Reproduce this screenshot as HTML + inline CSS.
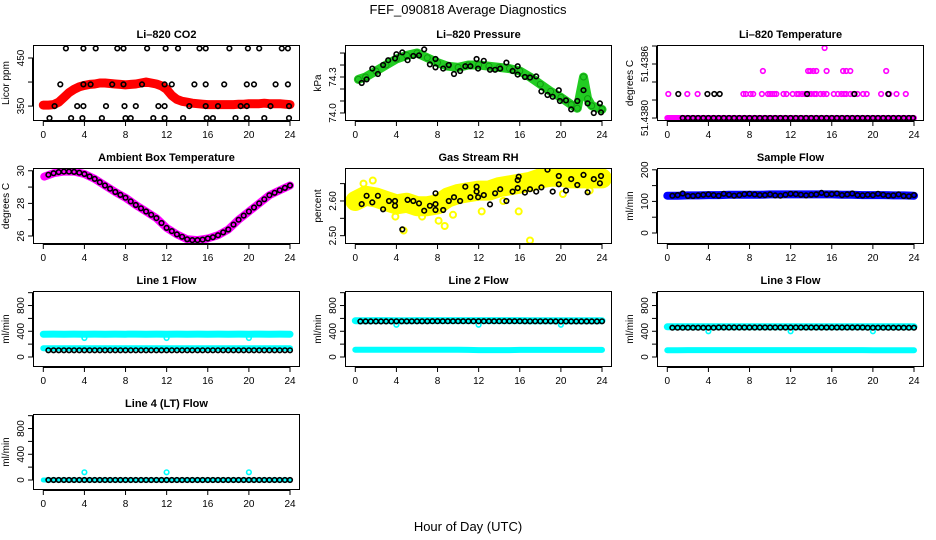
<!DOCTYPE html>
<html><head><meta charset="utf-8"><style>
html,body{margin:0;padding:0;background:#fff;}
svg{display:block;font-family:"Liberation Sans",Arial,sans-serif;}
</style></head><body>
<svg id="chart" width="936" height="540" viewBox="0 0 936 540" xmlns="http://www.w3.org/2000/svg">
<text x="468" y="14" text-anchor="middle" font-size="13">FEF_090818  Average Diagnostics</text>
<text x="468" y="531" text-anchor="middle" font-size="13">Hour of Day (UTC)</text>
</svg>
<script>
// ---------- data ----------
const hours=[0,1,2,3,4,5,6,7,8,9,10,11,12,13,14,15,16,17,18,19,20,21,22,23,24];
const hoursHalf=[0,0.5,1,1.5,2,2.5,3,3.5,4,4.5,5,5.5,6,6.5,7,7.5,8,8.5,9,9.5,10,10.5,11,11.5,12,12.5,13,13.5,14,14.5,15,15.5,16,16.5,17,17.5,18,18.5,19,19.5,20,20.5,21,21.5,22,22.5,23,23.5,24];
const xTicks=[0,4,8,12,16,20,24];

// CO2
const co2Red=[352,352,353,358,368,378,385,390,393,395,396,398,398,397,396,395,394,395,396,398,400,398,396,392,385,372,364,360,358,356,355,354,353,353,353,353,353,353,354,354,355,355,355,356,355,355,355,354,353];
const co2BlkHours=[2.2,3.9,5.1,7.2,7.8,10.1,11.9,13.1,15.2,15.8,18.1,19.9,21.0,23.2,23.8,
 1.65,3.9,4.6,6.7,7.8,9.6,11.8,12.5,14.7,15.8,17.6,19.8,20.5,22.6,23.8,
 1.1,3.3,3.9,6.1,7.9,9.0,11.2,11.8,14.2,15.8,17.0,19.2,19.8,22.1,23.9,
 0.6,2.7,3.8,5.7,8.0,8.5,10.7,11.8,13.6,15.9,16.5,18.7,19.8,21.5,23.9];
const co2BlkVals=[470,470,470,470,470,470,470,470,470,470,470,470,470,470,470,
 395,395,395,395,395,395,395,395,395,395,395,395,395,395,395,
 350,350,350,350,350,350,350,350,350,350,350,350,350,350,350,
 325,325,325,325,325,325,325,325,325,325,325,325,325,325,325];

// Pressure
const presHours=[0.3,1,2,3,4,5,6,7,8,9,10,11,12,13,14,15,16,17,18,19,20,21,21.6,22.2,22.6,23,24];
const presGreen=[74.28,74.30,74.35,74.40,74.45,74.48,74.50,74.46,74.42,74.39,74.38,74.40,74.40,74.39,74.38,74.37,74.35,74.30,74.24,74.18,74.13,74.07,74.04,74.30,74.12,74.06,74.03];
const presBlkHours=[0.62,1.1,1.65,2.2,2.7,3.2,3.86,4.0,4.57,5.09,5.64,6.2,6.7,7.26,7.8,7.8,8.55,9.1,9.6,10.2,10.7,11.2,11.8,11.95,12.5,13.1,13.6,14.1,14.7,15.3,15.8,15.8,16.5,17.0,17.6,18.1,18.7,19.2,19.8,19.9,20.5,21.0,21.6,22.2,22.6,23.2,23.8,23.9];
const presBlkVals=[74.25,74.28,74.37,74.325,74.40,74.44,74.455,74.49,74.505,74.44,74.475,74.48,74.53,74.405,74.45,74.38,74.37,74.40,74.325,74.35,74.39,74.39,74.45,74.37,74.435,74.36,74.36,74.37,74.42,74.35,74.39,74.32,74.30,74.295,74.305,74.18,74.15,74.135,74.19,74.10,74.105,74.03,74.10,74.19,74.08,74.0,74.08,74.005];

// Li-820 temperature
const tempLevel1=[51.4380,51.4380];
const tempLevel1Hours=[0,24];
const tempMagHours=[0.1,1.95,2.95,7.4,7.65,8.1,8.36,9.2,9.8,10.0,10.2,10.4,10.6,11.3,11.6,12.2,12.6,12.8,13.1,13.4,13.6,13.8,14.0,14.3,14.5,14.9,15.2,15.5,16.2,16.6,16.95,17.2,17.4,17.8,18.1,18.5,19.05,19.4,20.8,21.6,22.3,23.2,
 9.3,13.7,13.9,14.2,14.5,15.5,17.1,17.4,17.8,21.3,15.3];
const tempMagVals=[51.438267,51.438267,51.438267,51.438267,51.438267,51.438267,51.438267,51.438267,51.438267,51.438267,51.438267,51.438267,51.438267,51.438267,51.438267,51.438267,51.438267,51.438267,51.438267,51.438267,51.438267,51.438267,51.438267,51.438267,51.438267,51.438267,51.438267,51.438267,51.438267,51.438267,51.438267,51.438267,51.438267,51.438267,51.438267,51.438267,51.438267,51.438267,51.438267,51.438267,51.438267,51.438267,
 51.438522,51.438522,51.438522,51.438522,51.438522,51.438522,51.438522,51.438522,51.438522,51.438522,51.438778];
const tempBlkHours=[1.07,3.9,4.57,5.1,13.6,18.2,21.5,1.5,2.0,2.5,3.0,3.5,4.0,4.5,5.0,5.5,6.0,6.5,7.0,7.5,8.0,8.5,9.0,9.5,10.0,10.5,11.0,11.5,12.0,12.5,13.0,13.5,14.0,14.5,15.0,15.5,16.0,16.5,17.0,17.5,18.0,18.5,19.0,19.5,20.0,20.5,21.0,21.5,22.0,22.5,23.0,23.5,23.9];
const tempBlkVals=[51.438267,51.438267,51.438267,51.438267,51.438267,51.438267,51.438267,51.4380,51.4380,51.4380,51.4380,51.4380,51.4380,51.4380,51.4380,51.4380,51.4380,51.4380,51.4380,51.4380,51.4380,51.4380,51.4380,51.4380,51.4380,51.4380,51.4380,51.4380,51.4380,51.4380,51.4380,51.4380,51.4380,51.4380,51.4380,51.4380,51.4380,51.4380,51.4380,51.4380,51.4380,51.4380,51.4380,51.4380,51.4380,51.4380,51.4380,51.4380,51.4380,51.4380,51.4380,51.4380,51.4380];

// Ambient box temperature
const ambHours=[0.1,1,2,3,4,5,6,7,8,9,10,11,12,13,14,15,16,17,18,19,20,21,22,23,24];
const ambVals=[29.64,29.85,29.95,29.95,29.8,29.5,29.1,28.7,28.35,27.9,27.5,27.1,26.5,26.1,25.8,25.75,25.85,26.05,26.4,27.0,27.5,28.0,28.5,28.8,29.1];
const ambBlk=[null,29.75,29.85,29.92,29.95,29.95,29.93,29.88,29.8,29.65,29.5,29.3,29.1,28.9,28.7,28.52,28.35,28.12,27.9,27.7,27.5,27.3,27.1,26.8,26.5,26.3,26.1,25.95,25.8,25.75,25.75,25.78,25.85,25.93,26.05,26.22,26.4,26.7,27.0,27.25,27.5,27.75,28.0,28.25,28.5,28.65,28.8,28.95,29.1];

// Gas stream RH
const rhYellow=[2.60,2.615,2.61,2.60,2.59,2.595,2.585,2.585,2.59,2.61,2.62,2.625,2.63,2.63,2.64,2.645,2.65,2.655,2.665,2.67,2.67,2.665,2.665,2.665,2.665];
const rhYelOutHours=[17.0,4.7,8.7,8.1,1.7,0.8,3.9,9.5,15.9,18.6,22.8,20.2,6.5,12.3,14.4];
const rhYelOutVals=[2.486,2.515,2.528,2.543,2.659,2.65,2.555,2.56,2.57,2.69,2.63,2.62,2.555,2.57,2.60];
const rhBlkHours=[0.62,1.1,1.65,2.2,2.7,3.28,3.86,3.86,4.57,5.09,5.64,6.2,6.7,7.26,7.8,7.8,7.8,8.55,9.1,9.6,10.2,10.7,11.2,11.8,11.8,11.95,12.5,13.1,13.6,14.1,14.7,15.3,15.8,15.8,15.9,16.5,17.0,17.6,18.1,18.7,19.2,19.8,19.8,20.5,21.0,21.6,22.2,22.6,23.2,23.8,23.9];
const rhBlkVals=[2.591,2.615,2.596,2.615,2.576,2.60,2.60,2.586,2.518,2.603,2.60,2.593,2.572,2.586,2.622,2.591,2.574,2.574,2.60,2.611,2.60,2.641,2.611,2.641,2.627,2.611,2.617,2.59,2.622,2.634,2.60,2.627,2.66,2.637,2.67,2.624,2.634,2.627,2.639,2.69,2.627,2.672,2.648,2.63,2.663,2.646,2.675,2.625,2.663,2.651,2.672];

// Sample flow
const sampBlue=[118,118,119,119,120,120,121,121,121,121,122,122,122,122,122,122,122,121,121,120,120,120,119,119,118];
const sampBlk=[null,118,120,125,117,117,119,121,122,120,118,124,121,118,120,123,124,122,120,120,122,119,118,121,124,123,121,119,121,122,127,122,123,125,120,122,125,120,119,121,120,124,121,118,119,122,117,116,120];

// Line flows
const line1Upper=[355,356,355,356,355,356,355,356,355,356,355,356,355,356,355,356,355,356,355,356,355,356,355,356,355];
const line1Lower=[135,135,135,135,135,135,135,135,135,135,135,135,135,135,135,135,135,135,135,135,135,135,135,135,135];
const line1Blk=[null,104,104,104,104,104,104,104,104,104,104,104,104,104,104,104,104,104,104,104,104,104,104,104,104,104,104,104,104,104,104,104,104,104,104,104,104,104,104,104,104,104,104,104,104,104,104,104,104];
const line2Upper=[565,565,566,566,565,565,566,566,566,566,566,566,566,566,566,566,566,565,565,565,565,565,565,565,565];
const line2Lower=[112,112,112,112,112,112,112,112,112,112,112,110,108,108,108,108,110,110,110,110,110,110,110,110,110];
const line2Blk=[null,553,553,553,553,553,553,553,555,555,555,555,555,555,555,557,557,557,557,557,557,557,557,557,557,557,557,557,557,557,557,557,557,555,555,555,555,555,555,553,553,553,553,553,553,553,553,553,555];
const line3Upper=[470,470,470,470,470,470,470,470,470,470,470,470,470,470,470,470,470,470,470,470,470,470,470,470,470];
const line3Lower=[105,105,108,108,108,108,108,108,108,108,108,108,108,108,108,108,108,108,108,108,105,105,105,105,105];
const line3Blk=[null,455,455,455,455,455,455,455,455,455,458,458,458,458,458,458,458,458,458,458,458,458,458,458,458,458,458,458,458,458,458,458,458,458,458,458,458,458,458,455,455,455,455,455,455,455,455,455,455];
const line4Cyan=[0,0,0,0,0,0,0,0,0,0,0,0,0,0,0,0,0,0,0,0,0,0,0,0,0];
const line4Blk=[null,0,0,0,0,0,0,0,0,0,0,0,0,0,0,0,0,0,0,0,0,0,0,0,0,0,0,0,0,0,0,0,0,0,0,0,0,0,0,0,0,0,0,0,0,0,0,0,0];
const dipHours=[4,12,20];
const line1Dips=[295,295,295];
const line2Dips=[500,500,500];
const line3Dips=[400,400,400];
const line4Spikes=[120,120,120];

// ---------- drawing ----------
const NS='http://www.w3.org/2000/svg';
const svg=document.getElementById('chart');
const colsX=[33,345,657], rowsY=[45,168,291,414], PW=267, PH=76;
function mk(tag,attrs,parent){const e=document.createElementNS(NS,tag);for(const k in attrs)e.setAttribute(k,attrs[k]);(parent||svg).appendChild(e);return e;}

function makePanel(col,row,name,title,ylab,ymin,ymax,yticks,ylabels){
  const L=colsX[col],T=rowsY[row];
  const g=mk('g',{});
  
  
  const xs=h=>L+10.3+h*(246.7/24);
  const ys=v=>T+(ymax-v)/(ymax-ymin)*PH;
  const t=mk('text',{x:L+PW/2,y:T-7,'text-anchor':'middle','font-size':11,'font-weight':'bold'},g);
  t.textContent=title;
  
  
  const yl=mk('text',{x:0,y:0,transform:`translate(${L-24},${T+PH/2}) rotate(-90)`,'text-anchor':'middle','font-size':10},g);
  yl.textContent=ylab;
  
  
  const ax=mk('g',{stroke:'#000','stroke-width':1,fill:'none'},g);
  
  
  mk('line',{x1:xs(0),x2:xs(24),y1:T+PH+0.5,y2:T+PH+0.5},ax);
  xTicks.forEach(v=>{
    mk('line',{x1:xs(v),x2:xs(v),y1:T+PH,y2:T+PH+5},ax);
    const tx=mk('text',{x:xs(v),y:T+PH+17,'text-anchor':'middle','font-size':10,fill:'#000',stroke:'none'},g);
    tx.textContent=String(v);
    
    
  });
  yticks.forEach((v,i)=>{
    mk('line',{x1:L-5,x2:L,y1:ys(v),y2:ys(v)},ax);
    if(ylabels[i]){
      const ty=mk('text',{x:0,y:0,transform:`translate(${L-9},${ys(v)}) rotate(-90)`,'text-anchor':'middle','font-size':10},g);
      ty.textContent=ylabels[i];
      
      
    }
  });
  mk('line',{x1:L-0.5,x2:L-0.5,y1:ys(yticks[0]),y2:ys(yticks[yticks.length-1])},ax);
  const plot=mk('g',{},g);
  const clip='clip-'+name;
  const cp=mk('clipPath',{id:clip},g);mk('rect',{x:L,y:T,width:PW,height:PH},cp);
  plot.setAttribute('clip-path','url(#'+clip+')');
  const box=mk('rect',{x:L+0.5,y:T+0.5,width:PW-1,height:PH-1,fill:'none',stroke:'#000','stroke-width':1},g);
  
  
  return {
    band(hrs,vals,color,w,sname){
      const sg=mk('g',{},plot);
      
      
      let d='';hrs.forEach((h,i)=>{if(vals[i]==null)return;d+=(d?'L':'M')+xs(h).toFixed(1)+','+ys(vals[i]).toFixed(1);});
      mk('path',{d:d,fill:'none',stroke:color,'stroke-width':w,'stroke-linecap':'round','stroke-linejoin':'round'},sg);
    },
    points(hrs,vals,color,sname,r,sw){
      const sg=mk('g',{fill:'none',stroke:color,'stroke-width':sw||1.6},plot);
      
      
      hrs.forEach((h,i)=>{if(vals[i]==null)return;
        const c=mk('circle',{cx:xs(h).toFixed(1),cy:ys(vals[i]).toFixed(1),r:r||2.3},sg);
        
        
      });
    }
  };
}
const BLK='#000';
// Row 1
let p=makePanel(0,0,'co2','Li\u2013820 CO2','Licor ppm',319,477,[350,400,450],['350','','450']);
p.band(hoursHalf,co2Red,'#ff0000',9,'co2-red-series');
p.points(hoursHalf,co2Red,'#ff0000','co2-red-points',2.5,1.5);
p.points(co2BlkHours,co2BlkVals,BLK,'co2-black-points');

p=makePanel(1,0,'pressure','Li\u2013820 Pressure','kPa',73.933,74.567,[74.0,74.1,74.2,74.3,74.4,74.5],['74.0','','','74.3','','']);
p.band(presHours,presGreen,'#22cc22',9,'pressure-green-series');
p.points(presHours,presGreen,'#119911','pressure-green-points',3,1);
p.points(presBlkHours,presBlkVals,BLK,'pressure-black-points');

p=makePanel(2,0,'li820-temp','Li\u2013820 Temperature','degrees C',51.437967,51.438811,[51.4380,51.4382,51.4384,51.4386,51.4388],['51.4380','','','51.4386','']);
p.band(tempLevel1Hours,tempLevel1,'#ff00ff',6,'temp-magenta-series');
p.points(tempMagHours,tempMagVals,'#ff00ff','temp-magenta-points');
p.points(tempBlkHours,tempBlkVals,BLK,'temp-black-points');

// Row 2
p=makePanel(0,1,'ambient','Ambient Box Temperature','degrees C',25.51,30.17,[26,27,28,29,30],['26','','28','','30']);
p.band(ambHours,ambVals,'#ff00ff',8,'ambient-magenta-series');
p.points(hoursHalf,ambBlk,BLK,'ambient-black-points');

p=makePanel(1,1,'rh','Gas Stream RH','percent',2.476,2.695,[2.50,2.55,2.60,2.65],['2.50','','2.60','']);
p.band(hours,rhYellow,'#ffff00',20,'rh-yellow-series');
p.points(rhYelOutHours,rhYelOutVals,'#ffff00','rh-yellow-points',3,2);
p.points(rhBlkHours,rhBlkVals,BLK,'rh-black-points');

p=makePanel(2,1,'sample-flow','Sample Flow','ml/min',-34.8,205.7,[0,50,100,150,200],['0','','100','','200']);
p.band(hours,sampBlue,'#0000ff',8,'sample-blue-series');
p.points(hoursHalf,sampBlk,BLK,'sample-black-points');

// Row 3
const fT=[0,200,400,600,800,1000], fL=['0','','400','','800',''];
p=makePanel(0,2,'line1','Line 1 Flow','ml/min',-155.5,1026,fT,fL);
p.band(hours,line1Upper,'#00ffff',7,'line1-cyan-upper');
p.band(hours,line1Lower,'#00ffff',6,'line1-cyan-lower');
p.points(dipHours,line1Dips,'#00ffff','line1-cyan-dips');
p.points(hoursHalf,line1Blk,BLK,'line1-black-points');

p=makePanel(1,2,'line2','Line 2 Flow','ml/min',-155.5,1026,fT,fL);
p.band(hours,line2Upper,'#00ffff',7,'line2-cyan-upper');
p.band(hours,line2Lower,'#00ffff',6,'line2-cyan-lower');
p.points(dipHours,line2Dips,'#00ffff','line2-cyan-dips');
p.points(hoursHalf,line2Blk,BLK,'line2-black-points');

p=makePanel(2,2,'line3','Line 3 Flow','ml/min',-155.5,1026,fT,fL);
p.band(hours,line3Upper,'#00ffff',7,'line3-cyan-upper');
p.band(hours,line3Lower,'#00ffff',6,'line3-cyan-lower');
p.points(dipHours,line3Dips,'#00ffff','line3-cyan-dips');
p.points(hoursHalf,line3Blk,BLK,'line3-black-points');

// Row 4
p=makePanel(0,3,'line4','Line 4 (LT) Flow','ml/min',-155.5,1026,fT,fL);
p.band(hours,line4Cyan,'#00ffff',5,'line4-cyan-series');
p.points(dipHours,line4Spikes,'#00ffff','line4-cyan-spikes');
p.points(hoursHalf,line4Blk,BLK,'line4-black-points');
</script>
</body></html>
